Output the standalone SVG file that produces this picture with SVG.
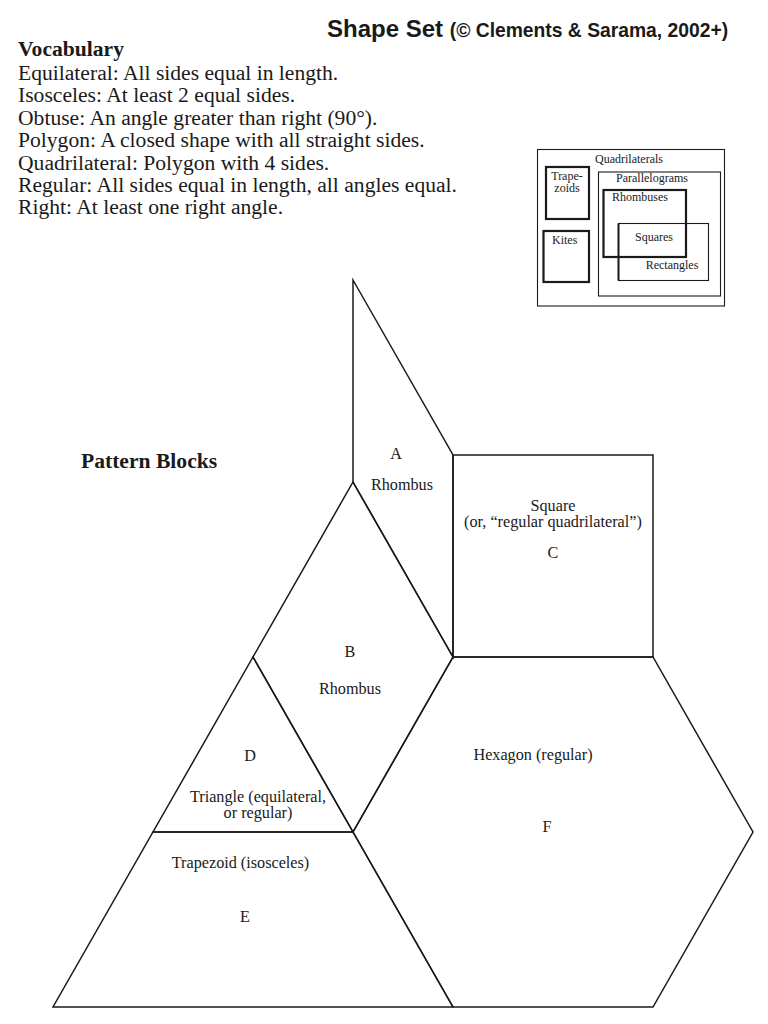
<svg xmlns="http://www.w3.org/2000/svg" width="768" height="1024" viewBox="0 0 768 1024">
<style>
.shape{fill:none;stroke:#1a1a1a;stroke-width:1.5;stroke-linejoin:miter}
.lbl{font-family:"Liberation Serif","Times New Roman",serif;font-size:16.2px;fill:#1a1a1a;text-anchor:middle}
.voc{font-family:"Liberation Serif","Times New Roman",serif;font-size:21.6px;fill:#1a1a1a}
.bold{font-family:"Liberation Serif","Times New Roman",serif;font-size:21.6px;font-weight:bold;fill:#1a1a1a}
.title{font-family:"Liberation Sans",Arial,sans-serif;font-weight:bold;fill:#1a1a1a}
.ins{font-family:"Liberation Serif","Times New Roman",serif;font-size:12px;fill:#1a1a1a}
.thin{fill:none;stroke:#1a1a1a;stroke-width:1.1}
.thick{fill:none;stroke:#1a1a1a;stroke-width:2.2}
</style>
<rect width="768" height="1024" fill="#ffffff"/>

<g id="title">
<text class="title" x="327" y="37" font-size="24">Shape Set <tspan font-size="19.3">(© Clements &amp; Sarama, 2002+)</tspan></text>
</g>

<g id="vocabulary">
<text class="bold" x="18" y="56">Vocabulary</text>
<text class="voc" x="18" y="80">Equilateral: All sides equal in length.</text>
<text class="voc" x="18" y="102.4">Isosceles: At least 2 equal sides.</text>
<text class="voc" x="18" y="124.8">Obtuse: An angle greater than right (90°).</text>
<text class="voc" x="18" y="147.2">Polygon: A closed shape with all straight sides.</text>
<text class="voc" x="18" y="169.6">Quadrilateral: Polygon with 4 sides.</text>
<text class="voc" x="18" y="192">Regular: All sides equal in length, all angles equal.</text>
<text class="voc" x="18" y="214.4">Right: At least one right angle.</text>
</g>

<g id="quadrilateral-hierarchy">
<rect class="thin" x="537.5" y="149.5" width="187" height="156.5"/>
<text class="ins" x="629" y="163" text-anchor="middle">Quadrilaterals</text>
<rect class="thick" x="546" y="167" width="43" height="52"/>
<text class="ins" x="567" y="180" text-anchor="middle">Trape-</text>
<text class="ins" x="567" y="192" text-anchor="middle">zoids</text>
<rect class="thick" x="543.5" y="231" width="45.5" height="51"/>
<text class="ins" x="552" y="243.5">Kites</text>
<rect class="thin" x="598.5" y="172" width="122" height="124" stroke-width="1.5"/>
<text class="ins" x="652" y="182" text-anchor="middle">Parallelograms</text>
<rect class="thin" x="618.5" y="223.5" width="90" height="57"/>
<line x1="618.5" y1="223.5" x2="618.5" y2="280.5" stroke="#1a1a1a" stroke-width="2"/>
<rect class="thick" x="603.5" y="190" width="82.5" height="67"/>
<text class="ins" x="612" y="201">Rhombuses</text>
<text class="ins" x="654" y="241" text-anchor="middle">Squares</text>
<text class="ins" x="672" y="268.5" text-anchor="middle">Rectangles</text>
</g>

<g id="pattern-blocks-heading">
<text class="bold" x="81" y="467.5">Pattern Blocks</text>
</g>

<g id="block-A">
<polygon class="shape" points="353,280 453,455 453,657 353,482"/>
<text class="lbl" x="396" y="458.5">A</text>
<text class="lbl" x="402" y="490">Rhombus</text>
</g>

<g id="block-C">
<polygon class="shape" points="453,455 653,455 653,657 453,657"/>
<text class="lbl" x="553" y="510.5">Square</text>
<text class="lbl" x="553" y="527">(or, “regular quadrilateral”)</text>
<text class="lbl" x="553" y="558">C</text>
</g>

<g id="block-B">
<polygon class="shape" points="353,482 453,657 353,832 253,657"/>
<text class="lbl" x="350" y="657">B</text>
<text class="lbl" x="350" y="694">Rhombus</text>
</g>

<g id="block-D">
<polygon class="shape" points="253,657 353,832 153,832"/>
<text class="lbl" x="250" y="761">D</text>
<text class="lbl" x="258" y="802">Triangle (equilateral,</text>
<text class="lbl" x="258" y="818">or regular)</text>
</g>

<g id="block-E">
<polygon class="shape" points="153,832 353,832 453,1007 53,1007"/>
<text class="lbl" x="240.5" y="868">Trapezoid (isosceles)</text>
<text class="lbl" x="245" y="922">E</text>
</g>

<g id="block-F">
<polygon class="shape" points="453,657 653,657 753,832 653,1007 453,1007 353,832"/>
<text class="lbl" x="533" y="760">Hexagon (regular)</text>
<text class="lbl" x="547" y="832">F</text>
</g>

<g id="connectors"></g>
</svg>
